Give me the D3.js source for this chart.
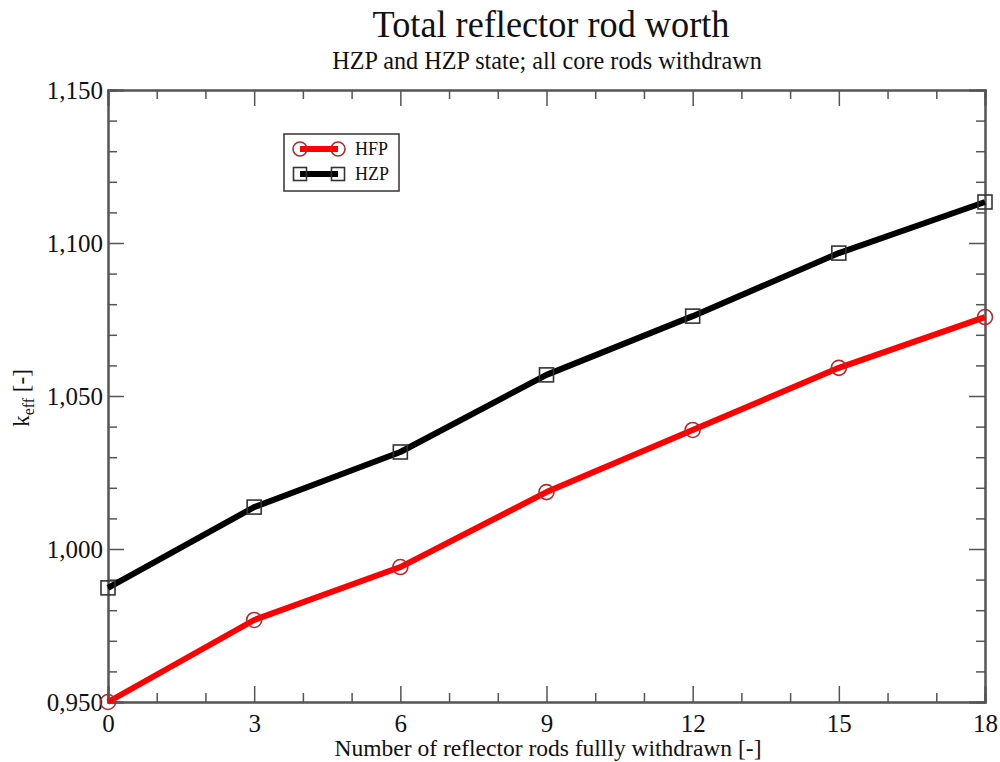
<!DOCTYPE html>
<html>
<head>
<meta charset="utf-8">
<script src="https://cdn.jsdelivr.net/npm/d3@7"></script>
<style>
  html, body { margin: 0; padding: 0; background: #fff; }
  svg { display: block; }
  text { font-family: "Liberation Serif", "Times New Roman", serif; fill: #111; }
</style>
</head>
<body>
<svg id="chart" width="1000" height="762"></svg>
<script>
// Number of reflector rods withdrawn
const rods = [0, 3, 6, 9, 12, 15, 18];
// k-eff, hot full power
const hfp = [0.9500, 0.9768, 0.9941, 1.0186, 1.0389, 1.0592, 1.0758];
// k-eff, hot zero power
const hzp = [0.9873, 1.0137, 1.0317, 1.0569, 1.0761, 1.0967, 1.1134];
const xTicks = [0, 3, 6, 9, 12, 15, 18];
const yTicks = [0.95, 1.0, 1.05, 1.1, 1.15];

const svg = d3.select("#chart");
const plot = { left: 108, right: 985, top: 90, bottom: 702 };

const x = d3.scaleLinear().domain([0, 18]).range([plot.left, plot.right]);
const y = d3.scaleLinear().domain([0.95, 1.15]).range([plot.bottom, plot.top]);

const fmt = v => d3.format(".3f")(v).replace(".", ",");
const axisColor = "#555";

// Minor tick positions
const xMinor = d3.range(0, 18.001, 1).filter(v => v % 3 !== 0);
const yMinor = d3.range(0, 20).map(i => 0.95 + i * 0.01).filter((v, i) => i % 5 !== 0);

// Bottom axis (ticks pointing inward)
const gB = svg.append("g").attr("transform", `translate(0,${plot.bottom})`)
  .call(d3.axisBottom(x).tickValues(xTicks).tickSize(-16).tickPadding(25).tickFormat(d3.format("d")));
gB.append("g").call(d3.axisBottom(x).tickValues(xMinor).tickSize(-9).tickFormat(""));
// Top axis
const gT = svg.append("g").attr("transform", `translate(0,${plot.top})`)
  .call(d3.axisTop(x).tickValues(xTicks).tickSize(-16).tickFormat(""));
gT.append("g").call(d3.axisTop(x).tickValues(xMinor).tickSize(-9).tickFormat(""));
// Left axis
const gL = svg.append("g").attr("transform", `translate(${plot.left},0)`)
  .call(d3.axisLeft(y).tickValues(yTicks).tickSize(-16).tickPadding(5).tickFormat(fmt));
gL.append("g").call(d3.axisLeft(y).tickValues(yMinor).tickSize(-9).tickFormat(""));
// Right axis
const gR = svg.append("g").attr("transform", `translate(${plot.right},0)`)
  .call(d3.axisRight(y).tickValues(yTicks).tickSize(-16).tickFormat(""));
gR.append("g").call(d3.axisRight(y).tickValues(yMinor).tickSize(-9).tickFormat(""));

svg.selectAll(".domain").attr("stroke", axisColor).attr("stroke-width", 2);
svg.selectAll(".tick line").attr("stroke", axisColor).attr("stroke-width", 1.5);
svg.selectAll(".tick text").style("font-family", "'Liberation Serif', serif")
  .style("font-size", "25px").attr("fill", "#222");
gB.selectAll(".tick text").attr("dy", "0.2em");

// Series lines
const line = d3.line().x((d, i) => x(rods[i])).y(d => y(d));
svg.append("path").datum(hzp).attr("d", line)
  .attr("fill", "none").attr("stroke", "#000").attr("stroke-width", 6).attr("stroke-linejoin", "round");
svg.append("path").datum(hfp).attr("d", line)
  .attr("fill", "none").attr("stroke", "#f00").attr("stroke-width", 6).attr("stroke-linejoin", "round");

// Markers
svg.append("g").selectAll("rect").data(hzp).join("rect")
  .attr("x", (d, i) => x(rods[i]) - 7).attr("y", d => y(d) - 7)
  .attr("width", 14).attr("height", 14)
  .attr("fill", "none").attr("stroke", "#333").attr("stroke-width", 1.6);
svg.append("g").selectAll("circle").data(hfp).join("circle")
  .attr("cx", (d, i) => x(rods[i])).attr("cy", d => y(d)).attr("r", 7.5)
  .attr("fill", "none").attr("stroke", "#b52a2a").attr("stroke-width", 1.6);

// Legend
const lg = svg.append("g");
lg.append("rect").attr("x", 284).attr("y", 134).attr("width", 115).attr("height", 57)
  .attr("fill", "#fff").attr("stroke", "#333").attr("stroke-width", 1.5);
const entries = [
  { name: "HFP", color: "#f00", mark: "circle", mstroke: "#b52a2a", yy: 149 },
  { name: "HZP", color: "#000", mark: "square", mstroke: "#333", yy: 174 }
];
entries.forEach(e => {
  lg.append("line").attr("x1", 300).attr("x2", 338).attr("y1", e.yy).attr("y2", e.yy)
    .attr("stroke", e.color).attr("stroke-width", 6);
  [300, 338].forEach(cx => {
    if (e.mark === "circle") {
      lg.append("circle").attr("cx", cx).attr("cy", e.yy).attr("r", 7)
        .attr("fill", "none").attr("stroke", e.mstroke).attr("stroke-width", 1.6);
    } else {
      lg.append("rect").attr("x", cx - 6.5).attr("y", e.yy - 6.5).attr("width", 13).attr("height", 13)
        .attr("fill", "none").attr("stroke", e.mstroke).attr("stroke-width", 1.6);
    }
  });
  lg.append("text").attr("x", 355).attr("y", e.yy).attr("dy", "0.35em")
    .style("font-size", "18px").text(e.name);
});

// Centered text, slightly condensed horizontally
function label(cx, cy, size, sx, str) {
  return svg.append("text").attr("transform", `translate(${cx},${cy}) scale(${sx},1)`)
    .attr("text-anchor", "middle").style("font-size", size + "px").text(str);
}
label(551, 37, 39, 0.93, "Total reflector rod worth");
label(547, 69, 25, 0.97, "HZP and HZP state; all core rods withdrawn");
label(548, 756, 24, 0.98, "Number of reflector rods fullly withdrawn [-]");

const yl = svg.append("text").attr("transform", `translate(29,${(plot.top + plot.bottom) / 2 + 2}) rotate(-90)`)
  .attr("text-anchor", "middle").style("font-size", "23px");
yl.append("tspan").text("k");
yl.append("tspan").attr("dy", 5).style("font-size", "16px").text("eff");
yl.append("tspan").attr("dy", -5).text(" [-]");
</script>
</body>
</html>
